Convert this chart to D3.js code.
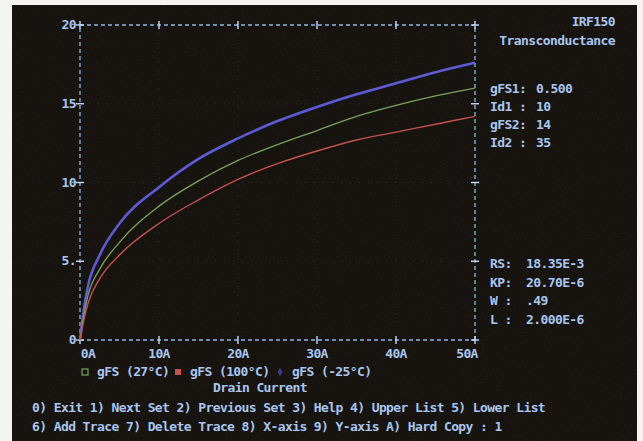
<!DOCTYPE html>
<meta charset="utf-8">
<style>
body { margin: 0; background: #f4f4f2; }
svg text { font-family: "DejaVu Sans Mono", "Liberation Mono", monospace; font-weight: bold; font-size: 13px; letter-spacing: -0.6px; fill: #a9c6ef; }
.frame { stroke: #93b6e6; stroke-width: 1.3px; stroke-dasharray: 4,3; fill: none; }
.cross { stroke: #c4dcff; stroke-width: 1.4px; }
.grid { stroke: #7f9cc4; stroke-width: 1px; stroke-dasharray: 1,8; opacity: 0.22; }
.trace { fill: none; }
</style>
<svg width="643" height="441"></svg>
<script src="https://d3js.org/d3.v7.min.js"></script>
<script>
// drain current (A) where the traces were read
var current = [0, 0.5, 1, 2.5, 5, 10, 15, 20, 25, 30, 35, 40, 45, 50];
var gfs27   = [0, 1.6, 2.8, 4.5, 6.2, 8.5, 10.1, 11.4, 12.4, 13.3, 14.2, 14.9, 15.5, 16.0];
var gfs100  = [0, 1.3, 2.3, 3.9, 5.4, 7.4, 8.9, 10.2, 11.2, 12.0, 12.7, 13.2, 13.7, 14.2];
var gfsM25  = [0, 2.0, 3.4, 5.4, 7.4, 9.7, 11.5, 12.8, 13.9, 14.8, 15.6, 16.3, 17.0, 17.6];

var xTicks = [0, 10, 20, 30, 40, 50];
var xTickLabels = ["0A", "10A", "20A", "30A", "40A", "50A"];
var yTicks = [0, 5, 10, 15, 20];
var yTickLabels = ["0", "5.", "10", "15", "20"];

var legendNames = ["gFS (27\u00b0C)", "gFS (100\u00b0C)", "gFS (-25\u00b0C)"];
var seriesColors = ["#78a35c", "#c4524c", "#5d5ad6"];

var sideTop = [["gFS1:", "0.500"], ["Id1 :", "10"], ["gFS2:", "14"], ["Id2 :", "35"]];
var sideBottom = [["RS:", "18.35E-3"], ["KP:", "20.70E-6"], ["W :", ".49"], ["L :", "2.000E-6"]];
var menuLines = [
  "0) Exit 1) Next Set 2) Previous Set 3) Help 4) Upper List 5) Lower List",
  "6) Add Trace 7) Delete Trace 8) X-axis 9) Y-axis A) Hard Copy : 1"
];

var svg = d3.select("svg");

// grain for the photographed CRT
var defs = svg.append("defs");
var f = defs.append("filter").attr("id", "grain").attr("x", 0).attr("y", 0).attr("width", 1).attr("height", 1);
f.append("feTurbulence").attr("type", "fractalNoise").attr("baseFrequency", 0.9).attr("numOctaves", 2).attr("seed", 3);
f.append("feColorMatrix").attr("type", "matrix")
    .attr("values", "0 0 0 0 0.45  0 0 0 0 0.4  0 0 0 0 0.36  0 0 0 0.6 -0.22");

// CRT screen
svg.append("rect").attr("x", 12).attr("y", 5).attr("width", 625).attr("height", 436).attr("fill", "#15120e");
svg.append("rect").attr("x", 12).attr("y", 5).attr("width", 625).attr("height", 436).attr("filter", "url(#grain)").attr("opacity", 0.18);

var x = d3.scaleLinear().domain([0, 50]).range([80, 475]),
    y = d3.scaleLinear().domain([0, 20]).range([340, 25]);

var g = svg.append("g");

// faint dotted grid
g.selectAll(".gx").data(xTicks.slice(1, -1)).enter().append("line")
    .attr("class", "grid")
    .attr("x1", d => x(d)).attr("x2", d => x(d))
    .attr("y1", y(20)).attr("y2", y(0));
g.selectAll(".gy").data(yTicks.slice(1, -1)).enter().append("line")
    .attr("class", "grid")
    .attr("x1", x(0)).attr("x2", x(50))
    .attr("y1", d => y(d)).attr("y2", d => y(d));

// dashed frame
g.append("line").attr("class", "frame").attr("x1", x(0)).attr("x2", x(50)).attr("y1", y(0)).attr("y2", y(0));
g.append("line").attr("class", "frame").attr("x1", x(0)).attr("x2", x(50)).attr("y1", y(20)).attr("y2", y(20));
g.append("line").attr("class", "frame").attr("x1", x(0)).attr("x2", x(0)).attr("y1", y(0)).attr("y2", y(20));
g.append("line").attr("class", "frame").attr("x1", x(50)).attr("x2", x(50)).attr("y1", y(0)).attr("y2", y(20));

// tick crosses on the frame
[0, 20].forEach(function(v) {
  g.selectAll(null).data(xTicks).enter().append("line")
      .attr("class", "cross")
      .attr("x1", d => x(d)).attr("x2", d => x(d))
      .attr("y1", y(v) - 4).attr("y2", y(v) + 4);
});
[0, 50].forEach(function(v) {
  g.selectAll(null).data(yTicks).enter().append("line")
      .attr("class", "cross")
      .attr("x1", x(v) - 4).attr("x2", x(v) + 4)
      .attr("y1", d => y(d)).attr("y2", d => y(d));
});

// tick labels
g.selectAll(".ylab").data(yTicks).enter().append("text")
    .attr("x", x(0) - 4)
    .attr("y", d => y(d) + 4)
    .attr("text-anchor", "end")
    .text((d, i) => yTickLabels[i]);
g.selectAll(".xlab").data(xTicks).enter().append("text")
    .attr("x", (d, i) => x(d) + (i === 0 ? 8 : i === xTicks.length - 1 ? -8 : 0))
    .attr("y", y(0) + 18)
    .attr("text-anchor", "middle")
    .text((d, i) => xTickLabels[i]);

// traces
var line = d3.line()
    .curve(d3.curveMonotoneX)
    .x(d => x(d[0]))
    .y(d => y(d[1]));
var series = [gfs27, gfs100, gfsM25];
var widths = [1.3, 1.4, 2.6];
[2, 0, 1].forEach(function(k) {
  g.append("path")
      .attr("class", "trace")
      .attr("stroke", seriesColors[k])
      .attr("stroke-width", widths[k])
      .attr("d", line(current.map((c, i) => [c, series[k][i]])));
});

// legend
var legX = [85, 178, 280];
legendNames.forEach(function(name, i) {
  var lx = legX[i], ly = 372;
  if (i === 0) {
    svg.append("rect").attr("x", lx - 3).attr("y", ly - 3).attr("width", 6).attr("height", 6)
        .attr("fill", "none").attr("stroke", seriesColors[0]).attr("stroke-width", 1.2);
  } else if (i === 1) {
    svg.append("rect").attr("x", lx - 3).attr("y", ly - 3).attr("width", 6).attr("height", 6)
        .attr("fill", seriesColors[1]);
  } else {
    svg.append("path").attr("d", d3.symbol(d3.symbolDiamond, 22)())
        .attr("transform", "translate(" + lx + "," + ly + ")")
        .attr("fill", "#3e3c8a");
  }
  svg.append("text").attr("x", lx + 12).attr("y", ly + 4).text(name);
});

svg.append("text").attr("x", 260).attr("y", 392).attr("text-anchor", "middle").text("Drain Current");

// header and parameter panel
svg.append("text").attr("x", 615).attr("y", 26).attr("text-anchor", "end").text("IRF150");
svg.append("text").attr("x", 615).attr("y", 45).attr("text-anchor", "end").text("Transconductance");

svg.selectAll(".p1").data(sideTop).enter().append("g")
    .attr("transform", (d, i) => "translate(490," + (93 + i * 18) + ")")
    .each(function(d) {
      d3.select(this).append("text").attr("x", 0).text(d[0]);
      d3.select(this).append("text").attr("x", 46).text(d[1]);
    });
svg.selectAll(".p2").data(sideBottom).enter().append("g")
    .attr("transform", (d, i) => "translate(490," + (268 + i * 18.5) + ")")
    .each(function(d) {
      d3.select(this).append("text").attr("x", 0).text(d[0]);
      d3.select(this).append("text").attr("x", 36).text(d[1]);
    });

// menu
svg.selectAll(".menu").data(menuLines).enter().append("text")
    .attr("x", 32)
    .attr("y", (d, i) => 412 + i * 19)
    .text(d => d);
</script>
